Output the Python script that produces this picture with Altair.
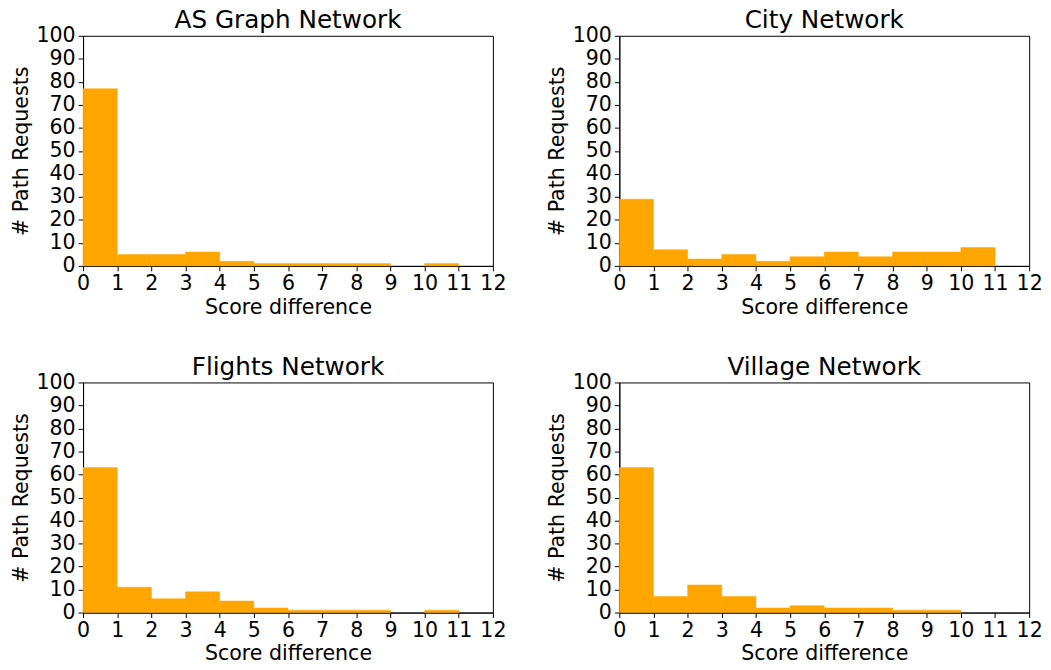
import altair as alt
import pandas as pd

bin_starts = [0, 1, 2, 3, 4, 5, 6, 7, 8, 9, 10]
bin_ends = [1, 2, 3, 4, 5, 6, 7, 8, 9, 10, 11]
x_ticks = [0, 1, 2, 3, 4, 5, 6, 7, 8, 9, 10, 11, 12]
y_ticks = [0, 10, 20, 30, 40, 50, 60, 70, 80, 90, 100]

titles = ["AS Graph Network", "City Network", "Flights Network", "Village Network"]
as_graph = [77, 5, 5, 6, 2, 1, 1, 1, 1, 0, 1]
city = [29, 7, 3, 5, 2, 4, 6, 4, 6, 6, 8]
flights = [63, 11, 6, 9, 5, 2, 1, 1, 1, 0, 1]
village = [63, 7, 12, 7, 2, 3, 2, 2, 1, 1, 0]

FONT = "DejaVu Sans"


def panel(values, title):
    df = pd.DataFrame({"start": bin_starts, "end": bin_ends, "count": values})
    return (
        alt.Chart(df)
        .mark_rect(color="#FFA500", stroke="#FFA500", strokeWidth=0.5)
        .encode(
            x=alt.X(
                "start:Q",
                scale=alt.Scale(domain=[0, 12], nice=False, zero=False),
                axis=alt.Axis(values=x_ticks, title="Score difference", labelFlush=False),
            ),
            x2="end:Q",
            y=alt.Y(
                "count:Q",
                scale=alt.Scale(domain=[0, 100], nice=False),
                axis=alt.Axis(values=y_ticks, title="# Path Requests"),
            ),
            y2=alt.datum(0),
            strokeOpacity=alt.condition("datum.count > 0", alt.value(1), alt.value(0)),
        )
        .properties(
            width=415,
            height=233,
            title=alt.TitleParams(title, fontSize=25, font=FONT, fontWeight="normal", offset=-8, color="black"),
        )
    )


charts = [panel(v, t) for v, t in zip([as_graph, city, flights, village], titles)]

chart = (
    alt.vconcat(
        alt.hconcat(charts[0], charts[1], spacing=39),
        alt.hconcat(charts[2], charts[3], spacing=39),
        spacing=36,
    )
    .properties(padding={"left": 1, "top": -5, "right": 0, "bottom": 0})
    .configure_view(stroke="black", strokeWidth=1)
    .configure_axis(
        grid=False,
        domainColor="black",
        tickColor="black",
        labelColor="black",
        titleColor="black",
        labelFont=FONT,
        titleFont=FONT,
        labelFontSize=20.8,
        titleFontSize=20.8,
        titleFontWeight="normal",
        tickSize=5,
        labelPadding=3,
    )
    .configure_axisY(titlePadding=5)
    .configure_axisX(titlePadding=4)
)

chart.save("out.html", embed_options={"renderer": "svg", "actions": False})
